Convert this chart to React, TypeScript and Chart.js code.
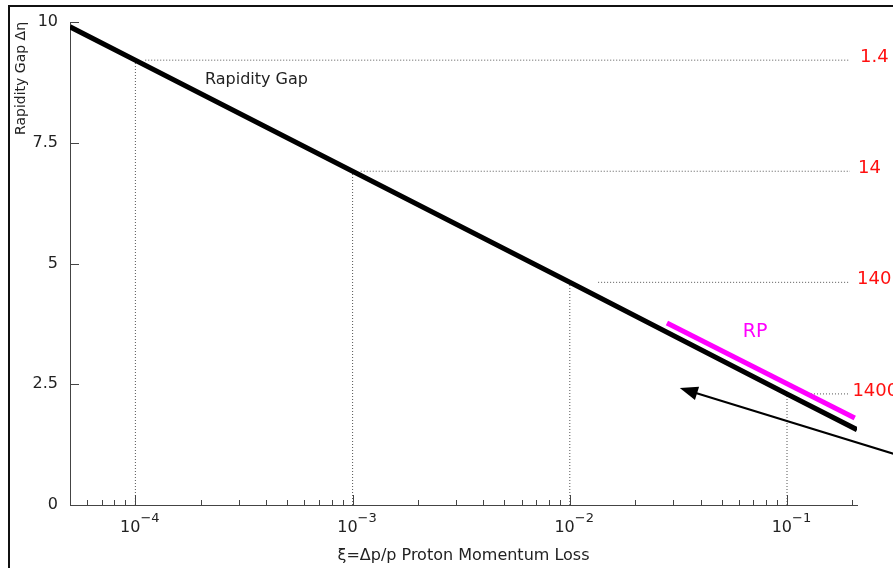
import React, { useEffect, useRef } from 'react';
import { Chart, registerables } from 'chart.js';

Chart.register(...registerables);

// ---- data ----
const xi = [5e-5, 1e-4, 1e-3, 1e-2, 1e-1, 0.21];
const gap = [9.9, 9.21, 6.91, 4.61, 2.3, 1.56];

const rpXi = [0.028, 0.205];
const rpGap = [3.77, 1.8];

const markXi = [1e-4, 1e-3, 1e-2, 1e-1];
const markGap = [9.21, 6.91, 4.61, 2.3];
const guideStartXi = [1.11e-4, 1.09e-3, 1.35e-2, 1.21e-1];
const guideEndXi = [0.195, 0.195, 0.195, 0.195];
const energyLabels = ['1.4', '14', '140', '1400'];
const energyLabelXi = [0.217, 0.2125, 0.21, 0.2];

const xTicks = [1e-4, 1e-3, 1e-2, 1e-1];
const xTickBase = ['10', '10', '10', '10'];
const xTickExp = ['\u22124', '\u22123', '\u22122', '\u22121'];
const yTicks = [0, 2.5, 5, 7.5, 10];
const yTickLabels = ['0', '2.5', '5', '7.5', '10'];

const gapLabel = { text: 'Rapidity Gap', xi: 3.61e-4, y: 8.8 };
const rpLabel = { text: 'RP', xi: 0.0713, y: 3.58 };
const arrowTip = { xi: 0.0321, y: 2.42 };
const arrowTail = { xi: 0.32, y: 1.04 };

const FONT = 'DejaVu Sans';

const overlay = {
  id: 'overlay',
  beforeDraw(chart: any) {
    const { ctx, width, height } = chart;
    ctx.save();
    ctx.fillStyle = '#ffffff';
    ctx.fillRect(0, 0, width, height);
    ctx.restore();
  },
  afterDraw(chart: any) {
    const { ctx, chartArea } = chart;
    const x = chart.scales.x;
    const y = chart.scales.y;
    ctx.save();
    // inward tick marks
    ctx.strokeStyle = '#444';
    ctx.lineWidth = 1;
    ctx.beginPath();
    const decades = [-5, -4, -3, -2, -1];
    for (const d of decades) {
      for (let m = 1; m <= 9; m++) {
        const v = m * Math.pow(10, d);
        if (v < x.min * 0.999 || v > x.max * 1.001) continue;
        const px = Math.round(x.getPixelForValue(v)) + 0.5;
        const len = m === 1 ? 10 : 5;
        ctx.moveTo(px, chartArea.bottom);
        ctx.lineTo(px, chartArea.bottom - len);
      }
    }
    for (const t of yTicks) {
      const py = Math.round(y.getPixelForValue(t)) + 0.5;
      ctx.moveTo(chartArea.left, py);
      ctx.lineTo(chartArea.left + 9, py);
    }
    ctx.stroke();

    // x tick labels with superscript exponents
    ctx.fillStyle = '#222';
    ctx.textBaseline = 'alphabetic';
    xTicks.forEach((v, i) => {
      const px = x.getPixelForValue(v);
      ctx.font = `16px "${FONT}"`;
      ctx.textAlign = 'right';
      ctx.fillText(xTickBase[i], px + 5, chartArea.bottom + 27);
      ctx.font = `13px "${FONT}"`;
      ctx.textAlign = 'left';
      ctx.fillText(xTickExp[i], px + 5, chartArea.bottom + 17);
    });

    // energy labels (red)
    ctx.fillStyle = '#ff1010';
    ctx.font = `18px "${FONT}"`;
    ctx.textAlign = 'left';
    ctx.textBaseline = 'alphabetic';
    energyLabels.forEach((t, i) => {
      ctx.fillText(t, x.getPixelForValue(energyLabelXi[i]), y.getPixelForValue(markGap[i]) + 2);
    });

    // text labels
    ctx.textAlign = 'center';
    ctx.textBaseline = 'middle';
    ctx.fillStyle = '#222';
    ctx.font = `16px "${FONT}"`;
    ctx.fillText(gapLabel.text, x.getPixelForValue(gapLabel.xi), y.getPixelForValue(gapLabel.y));
    ctx.fillStyle = '#ff00ff';
    ctx.font = `19px "${FONT}"`;
    ctx.fillText(rpLabel.text, x.getPixelForValue(rpLabel.xi), y.getPixelForValue(rpLabel.y));

    // arrow
    const tx = x.getPixelForValue(arrowTip.xi);
    const ty = y.getPixelForValue(arrowTip.y);
    const sx = x.getPixelForValue(arrowTail.xi);
    const sy = y.getPixelForValue(arrowTail.y);
    const ang = Math.atan2(ty - sy, tx - sx);
    ctx.strokeStyle = '#000';
    ctx.fillStyle = '#000';
    ctx.lineWidth = 2;
    ctx.beginPath();
    ctx.moveTo(sx, sy);
    ctx.lineTo(tx - 10 * Math.cos(ang), ty - 10 * Math.sin(ang));
    ctx.stroke();
    const hl = 18, hw = 7;
    ctx.beginPath();
    ctx.moveTo(tx, ty);
    ctx.lineTo(tx - hl * Math.cos(ang) + hw * Math.sin(ang), ty - hl * Math.sin(ang) - hw * Math.cos(ang));
    ctx.lineTo(tx - hl * Math.cos(ang) - hw * Math.sin(ang), ty - hl * Math.sin(ang) + hw * Math.cos(ang));
    ctx.closePath();
    ctx.fill();

    // frame
    ctx.fillStyle = '#111';
    ctx.fillRect(8, 5, 2, chart.height - 5);
    ctx.fillRect(8, 5, chart.width - 8, 2);
    ctx.restore();
  },
};

export default function App() {
  const ref = useRef<HTMLCanvasElement | null>(null);
  useEffect(() => {
    if (!ref.current) return;
    const dotted = {
      borderColor: '#555',
      borderWidth: 1,
      borderDash: [1, 2],
      pointRadius: 0,
      showLine: true,
    };
    const datasets: any[] = [
      {
        label: 'Rapidity Gap',
        data: xi.map((v, i) => ({ x: v, y: gap[i] })),
        borderColor: '#000',
        borderWidth: 5,
        pointRadius: 0,
        showLine: true,
      },
      {
        label: 'RP',
        data: rpXi.map((v, i) => ({ x: v, y: rpGap[i] })),
        borderColor: '#ff00ff',
        borderWidth: 5,
        pointRadius: 0,
        showLine: true,
      },
      ...markXi.map((v, i) => ({
        ...dotted,
        label: 'v' + i,
        data: [{ x: v, y: 0 }, { x: v, y: markGap[i] }],
      })),
      ...guideStartXi.map((v, i) => ({
        ...dotted,
        label: 'h' + i,
        data: [{ x: v, y: markGap[i] }, { x: guideEndXi[i], y: markGap[i] }],
      })),
    ];
    const chart = new Chart(ref.current, {
      type: 'scatter',
      data: { datasets },
      plugins: [overlay],
      options: {
        animation: false,
        responsive: false,
        devicePixelRatio: 1,
        layout: { padding: { left: 0, top: 22, right: 36, bottom: 0 } },
        plugins: { legend: { display: false }, tooltip: { enabled: false } },
        scales: {
          x: {
            type: 'logarithmic',
            min: 5e-5,
            max: 0.21,
            grid: { display: false, drawTicks: false },
            border: { display: true, color: '#444', width: 1 },
            afterBuildTicks: (s: any) => {
              s.ticks = xTicks.map((v) => ({ value: v }));
            },
            afterFit: (s: any) => {
              s.height = 63;
            },
            ticks: { display: false },
            title: {
              display: true,
              text: '\u03BE=\u0394p/p Proton Momentum Loss',
              color: '#222',
              font: { family: FONT, size: 16 },
              padding: { top: 0, bottom: 3 },
            },
          },
          y: {
            type: 'linear',
            min: 0,
            max: 10,
            grid: { display: false, drawTicks: false },
            border: { display: true, color: '#444', width: 1 },
            afterBuildTicks: (s: any) => {
              s.ticks = yTicks.map((v) => ({ value: v }));
            },
            afterFit: (s: any) => {
              s.width = 70;
            },
            ticks: {
              padding: 12,
              color: '#222',
              font: { family: FONT, size: 16 },
              callback: (_v: any, i: number) => yTickLabels[i],
            },
            title: {
              display: true,
              text: 'Rapidity Gap \u0394\u03B7',
              align: 'end',
              color: '#222',
              font: { family: FONT, size: 14 },
              padding: { top: 13, bottom: 0 },
            },
          },
        },
      },
    } as any);
    return () => chart.destroy();
  }, []);
  return (
    <div style={{ position: 'fixed', left: 0, top: 0, width: 893, height: 568, background: '#fff', overflow: 'hidden' }}>
      <canvas ref={ref} width={893} height={568} style={{ display: 'block' }} />
    </div>
  );
}
